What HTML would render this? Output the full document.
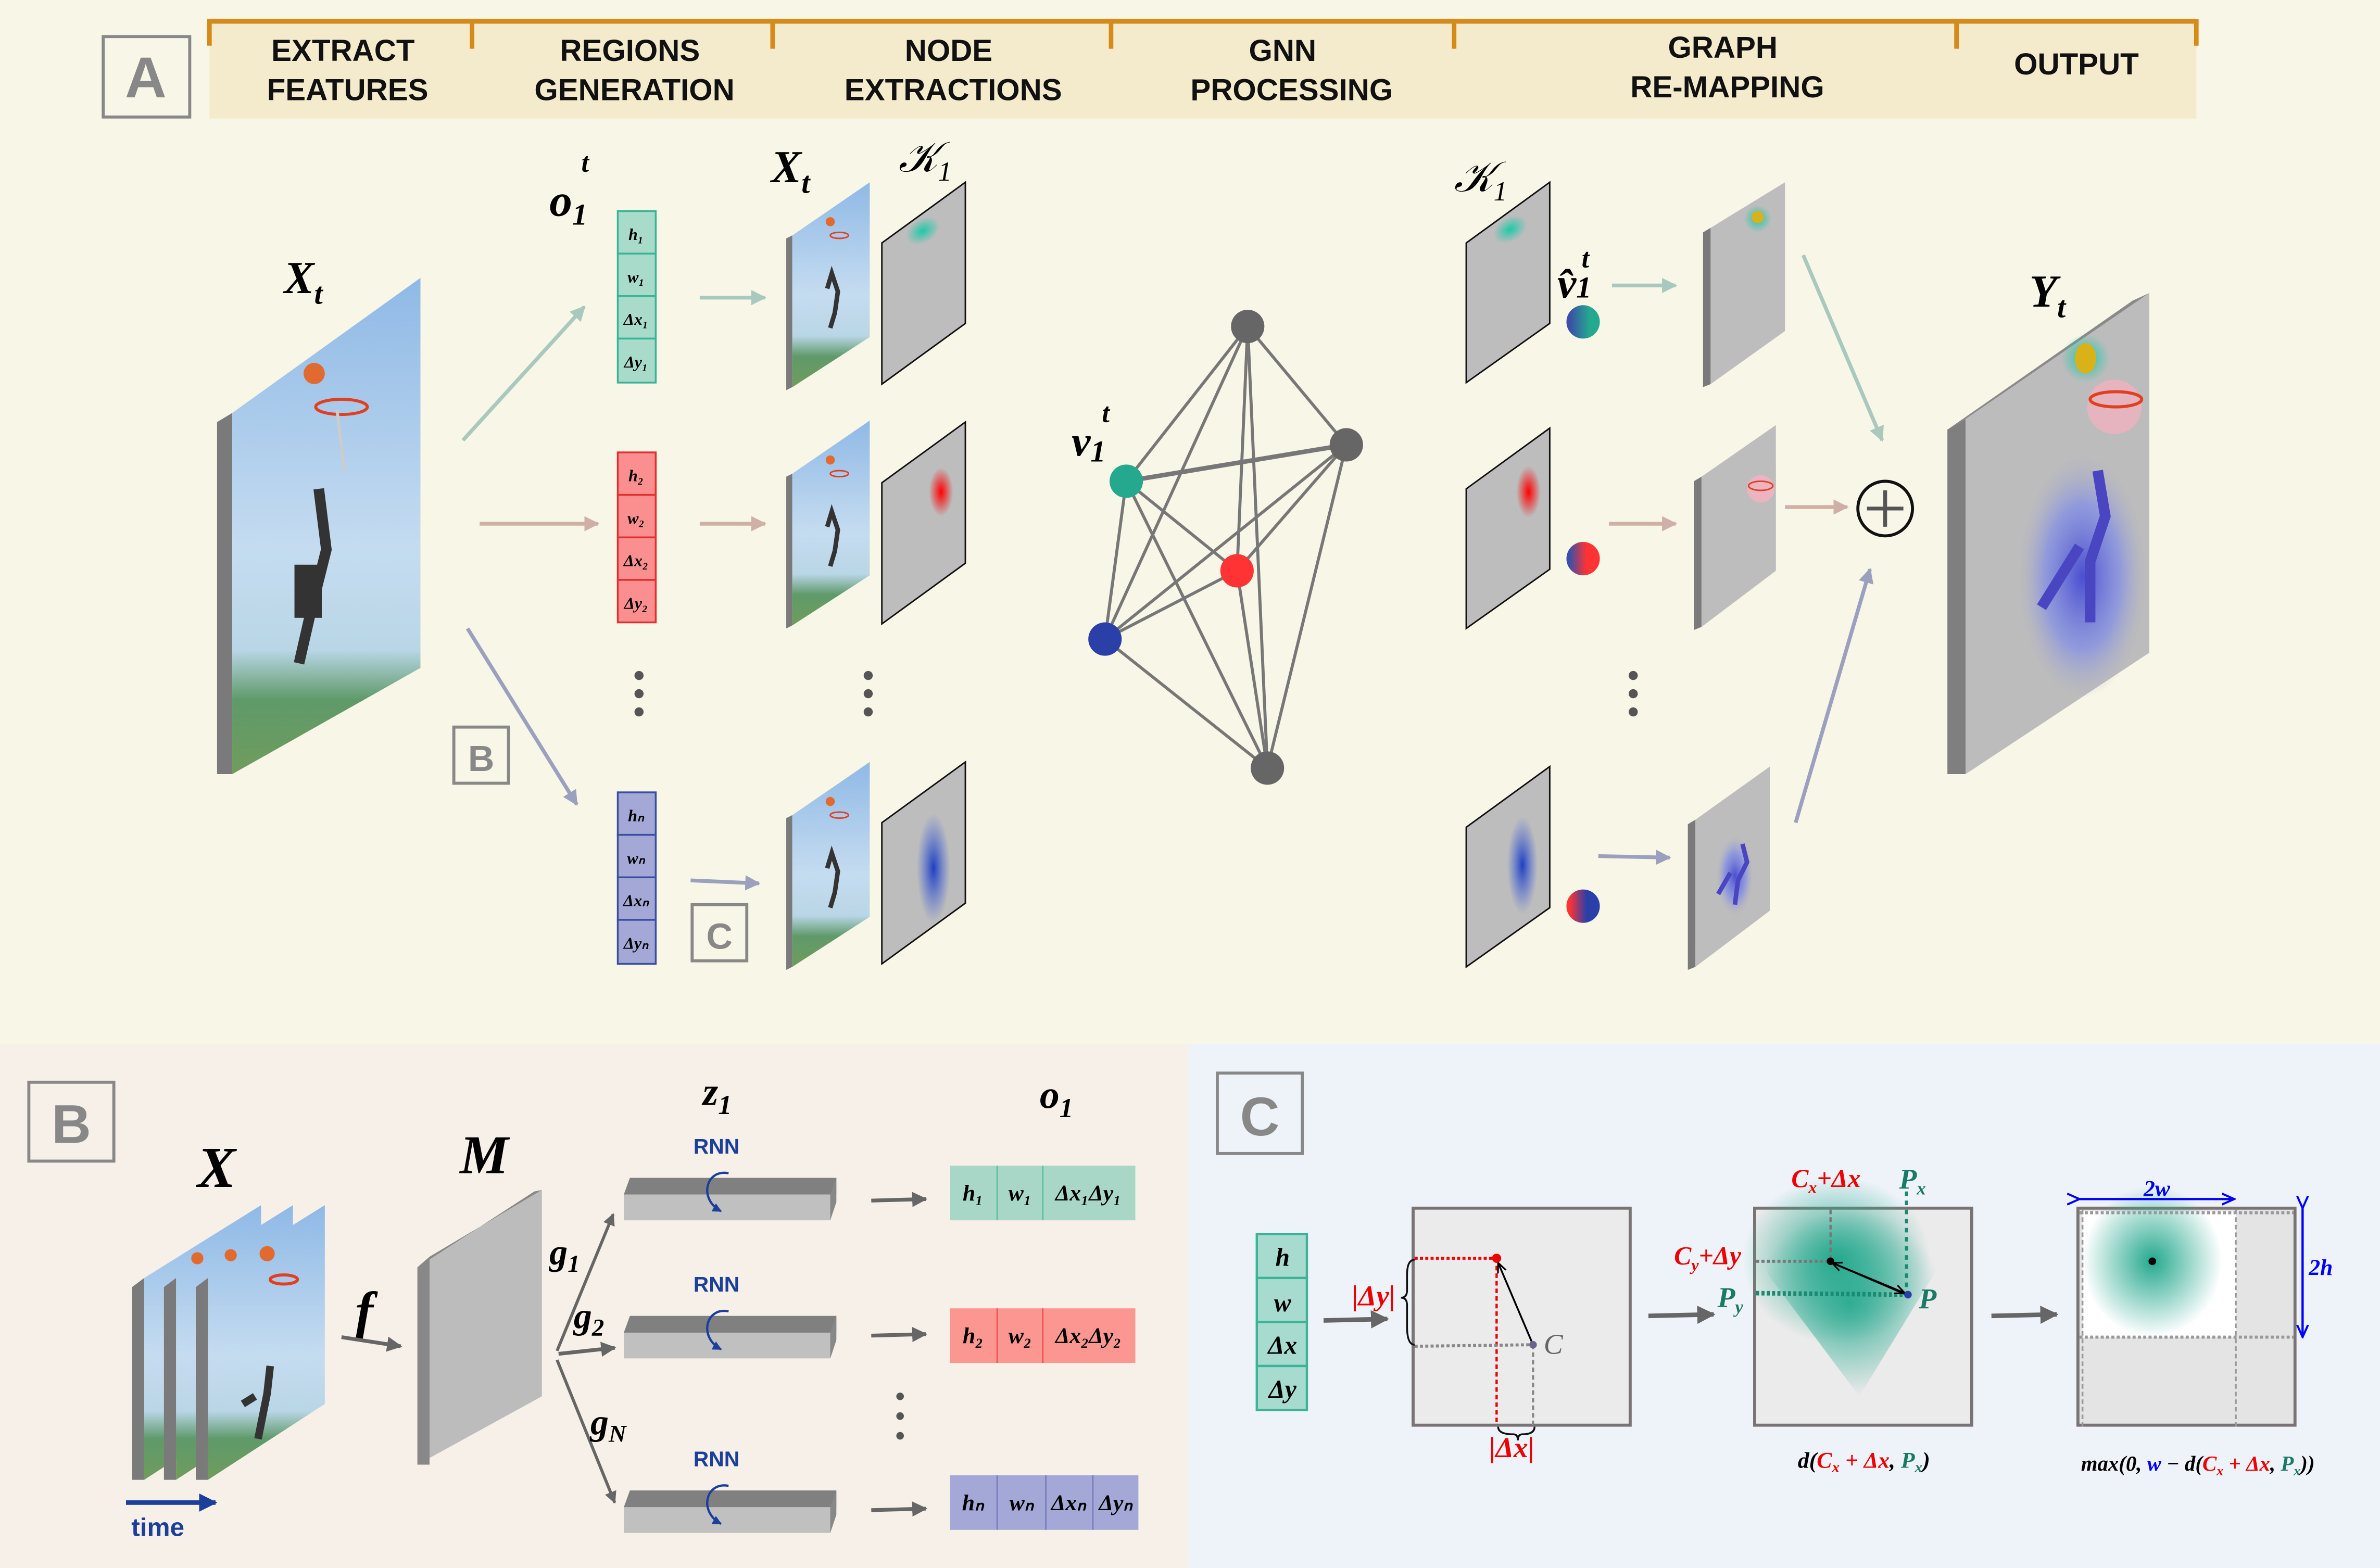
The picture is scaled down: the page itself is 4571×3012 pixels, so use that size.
<!DOCTYPE html>
<html><head><meta charset="utf-8"><style>
html,body{margin:0;padding:0;background:#f8f6e6;}
svg{display:block}
text{font-family:"Liberation Serif",serif;}
text.h{font-family:"Liberation Sans",sans-serif;font-weight:bold;font-size:20px;fill:#111;text-anchor:middle}
text.lbl{font-family:"Liberation Sans",sans-serif;font-weight:bold;fill:#888;text-anchor:middle}
text.sans{font-family:"Liberation Sans",sans-serif;font-weight:bold;}
.m{font-style:italic;font-weight:bold;}
</style></head><body>
<svg width="4571" height="3012" viewBox="0 0 1568 1033" xmlns="http://www.w3.org/2000/svg">
<defs>
<linearGradient id="ph" x1="0" y1="0" x2="0" y2="1">
<stop offset="0" stop-color="#8fb9e6"/><stop offset="0.55" stop-color="#c5dcf0"/><stop offset="0.75" stop-color="#b9d6e6"/><stop offset="0.85" stop-color="#5f9a6a"/><stop offset="1" stop-color="#6f9c5c"/>
</linearGradient>
<radialGradient id="gt"><stop offset="0" stop-color="#1fc9a8"/><stop offset="1" stop-color="#1fc9a8" stop-opacity="0"/></radialGradient>
<radialGradient id="gr"><stop offset="0" stop-color="#f00"/><stop offset="1" stop-color="#f00" stop-opacity="0"/></radialGradient>
<radialGradient id="gb"><stop offset="0" stop-color="#1f3fbf"/><stop offset="1" stop-color="#3a5fe0" stop-opacity="0"/></radialGradient>
<radialGradient id="gg"><stop offset="0" stop-color="#25a98e"/><stop offset="1" stop-color="#25a98e" stop-opacity="0"/></radialGradient>
<radialGradient id="gbody"><stop offset="0" stop-color="#4a4fd0"/><stop offset="0.6" stop-color="#7f8ce8" stop-opacity="0.7"/><stop offset="1" stop-color="#aac" stop-opacity="0"/></radialGradient>
<linearGradient id="c1" x1="0" x2="1"><stop offset="0.1" stop-color="#3b4fa8"/><stop offset="0.7" stop-color="#25a98e"/></linearGradient>
<linearGradient id="c2" x1="0" x2="1"><stop offset="0.1" stop-color="#3b4fa8"/><stop offset="0.6" stop-color="#f33"/></linearGradient>
<linearGradient id="c3" x1="0" x2="1"><stop offset="0.1" stop-color="#f33"/><stop offset="0.6" stop-color="#2a3fa8"/></linearGradient>
<marker id="aG" viewBox="0 0 10 10" refX="9" refY="5" markerWidth="4" markerHeight="4" orient="auto"><path d="M0,0L10,5L0,10z" fill="#a9c9bf"/></marker>
<marker id="aR" viewBox="0 0 10 10" refX="9" refY="5" markerWidth="4" markerHeight="4" orient="auto"><path d="M0,0L10,5L0,10z" fill="#cfb0a8"/></marker>
<marker id="aB" viewBox="0 0 10 10" refX="9" refY="5" markerWidth="4" markerHeight="4" orient="auto"><path d="M0,0L10,5L0,10z" fill="#9aa0bd"/></marker>
<marker id="aD" viewBox="0 0 10 10" refX="9" refY="5" markerWidth="4" markerHeight="4" orient="auto"><path d="M0,0L10,5L0,10z" fill="#666"/></marker>
<marker id="aK" viewBox="0 0 10 10" refX="9" refY="5" markerWidth="6" markerHeight="6" orient="auto"><path d="M0,1L9,5L0,9" fill="none" stroke="#000" stroke-width="1.5"/></marker>
<marker id="aN" viewBox="0 0 10 10" refX="9" refY="5" markerWidth="6" markerHeight="6" orient="auto"><path d="M0,1L9,5L0,9" fill="none" stroke="#00f" stroke-width="1.5"/></marker>
<marker id="aT" viewBox="0 0 10 10" refX="9" refY="5" markerWidth="4" markerHeight="4" orient="auto"><path d="M0,0L10,5L0,10z" fill="#1c3f9a"/></marker>
<g id="sframe"><polygon points="518,157 522,155 522,255 518,257" fill="#7a7a7a"/><polygon points="522,155 573,120 573,222 522,255" fill="url(#ph)"/><circle cx="547" cy="146" r="3" fill="#e06a30"/><ellipse cx="553" cy="155" rx="6" ry="2" fill="none" stroke="#e04020"/><path d="M545,190 l3,-10 l4,12 l-2,14 l-3,10" stroke="#333" stroke-width="3" fill="none"/></g>
<polygon id="kern" points="581,160 636,120 636,213 581,253" fill="#bdbdbd" stroke="#111" stroke-width="1"/>
<polygon id="rk" points="966,160 1021,120 1021,213 966,252" fill="#bdbdbd" stroke="#111" stroke-width="1"/>
</defs>

<rect x="0" y="0" width="1568" height="688" fill="#f8f6e6"/>
<rect x="0" y="688" width="783" height="345" fill="#f7f0e8"/>
<rect x="783" y="688" width="785" height="345" fill="#eef3f9"/>

<rect x="138" y="12" width="1309" height="66" fill="#f4ebcd"/>
<path d="M138,30V14H1447V30" fill="none" stroke="#d58a1a" stroke-width="3"/>
<g stroke="#d58a1a" stroke-width="3"><line x1="311" y1="13" x2="311" y2="32"/><line x1="509" y1="13" x2="509" y2="32"/><line x1="732" y1="13" x2="732" y2="32"/><line x1="958" y1="13" x2="958" y2="32"/><line x1="1289" y1="13" x2="1289" y2="32"/></g>
<text class="h" x="226" y="40">EXTRACT</text><text class="h" x="229" y="66">FEATURES</text>
<text class="h" x="415" y="40">REGIONS</text><text class="h" x="418" y="66">GENERATION</text>
<text class="h" x="625" y="40">NODE</text><text class="h" x="628" y="66">EXTRACTIONS</text>
<text class="h" x="845" y="40">GNN</text><text class="h" x="851" y="66">PROCESSING</text>
<text class="h" x="1135" y="38">GRAPH</text><text class="h" x="1138" y="64">RE-MAPPING</text>
<text class="h" x="1368" y="49">OUTPUT</text>
<rect x="68" y="24" width="57" height="53" fill="none" stroke="#888" stroke-width="2"/>
<text class="lbl" x="96" y="64" font-size="38">A</text>

<text x="187" y="193" font-size="30" class="m">X<tspan font-size="20" dy="7">t</tspan></text>
<polygon points="143,278 153,272 153,510 143,510" fill="#7a7a7a"/>
<polygon points="153,272 277,183 277,440 153,510" fill="url(#ph)"/>
<circle cx="207" cy="246" r="7" fill="#e06a30"/>
<ellipse cx="225" cy="268" rx="17" ry="5" fill="none" stroke="#e04020" stroke-width="2"/>
<path d="M222,270 l5,40" stroke="#ccc" stroke-width="2"/>
<path d="M210,322 l5,40 l-10,40 l-8,35" stroke="#333" stroke-width="7" fill="none"/>
<rect x="194" y="372" width="18" height="35" fill="#333"/>

<line x1="305" y1="290" x2="385" y2="202" stroke="#a9c9bf" stroke-width="2.5" marker-end="url(#aG)"/>
<line x1="316" y1="345" x2="394" y2="345" stroke="#cfb0a8" stroke-width="2.5" marker-end="url(#aR)"/>
<line x1="308" y1="414" x2="380" y2="530" stroke="#9aa0bd" stroke-width="2.5" marker-end="url(#aB)"/>
<rect x="299" y="479" width="36" height="37" fill="none" stroke="#888" stroke-width="2"/>
<text class="lbl" x="317" y="508" font-size="24">B</text>

<text x="362" y="142" font-size="30" class="m">o<tspan font-size="20" dy="6">1</tspan></text>
<text x="383" y="113" font-size="18" class="m">t</text>
<g font-size="11" class="m" text-anchor="middle">
<g fill="#a8dbc9" stroke="#3bb398" stroke-width="1.2"><rect x="407" y="139" width="25" height="28"/><rect x="407" y="167" width="25" height="28"/><rect x="407" y="195" width="25" height="28"/><rect x="407" y="223" width="25" height="29"/></g>
<text x="419" y="158">h₁</text><text x="419" y="186">w₁</text><text x="419" y="214">Δx₁</text><text x="419" y="242">Δy₁</text>
<g fill="#fb8e8e" stroke="#e03030" stroke-width="1.2"><rect x="407" y="298" width="25" height="28"/><rect x="407" y="326" width="25" height="28"/><rect x="407" y="354" width="25" height="28"/><rect x="407" y="382" width="25" height="28"/></g>
<text x="419" y="317">h₂</text><text x="419" y="345">w₂</text><text x="419" y="373">Δx₂</text><text x="419" y="401">Δy₂</text>
<g fill="#a3a8d6" stroke="#3a4fa0" stroke-width="1.2"><rect x="407" y="522" width="25" height="28"/><rect x="407" y="550" width="25" height="28"/><rect x="407" y="578" width="25" height="28"/><rect x="407" y="606" width="25" height="29"/></g>
<text x="419" y="541">hₙ</text><text x="419" y="569">wₙ</text><text x="419" y="597">Δxₙ</text><text x="419" y="625">Δyₙ</text>
</g>
<g fill="#555"><circle cx="421" cy="445" r="3"/><circle cx="421" cy="457" r="3"/><circle cx="421" cy="469" r="3"/><circle cx="572" cy="445" r="3"/><circle cx="572" cy="457" r="3"/><circle cx="572" cy="469" r="3"/><circle cx="1076" cy="445" r="3"/><circle cx="1076" cy="457" r="3"/><circle cx="1076" cy="469" r="3"/></g>

<line x1="461" y1="196" x2="504" y2="196" stroke="#a9c9bf" stroke-width="2.5" marker-end="url(#aG)"/>
<line x1="461" y1="345" x2="504" y2="345" stroke="#cfb0a8" stroke-width="2.5" marker-end="url(#aR)"/>
<line x1="455" y1="580" x2="500" y2="582" stroke="#9aa0bd" stroke-width="2.5" marker-end="url(#aB)"/>
<rect x="456" y="596" width="36" height="37" fill="none" stroke="#888" stroke-width="2"/>
<text class="lbl" x="474" y="625" font-size="24">C</text>

<text x="508" y="120" font-size="30" class="m">X<tspan font-size="20" dy="7">t</tspan></text>
<text x="592" y="113" font-size="28" font-style="italic">𝒦<tspan font-size="18" dy="6">1</tspan></text>
<use href="#sframe"/><use href="#sframe" y="157"/><use href="#sframe" y="382"/>
<use href="#kern"/><use href="#kern" y="158"/><use href="#kern" y="382"/>
<ellipse cx="608" cy="152" rx="12" ry="8" fill="url(#gt)" transform="rotate(-30 608 152)"/>
<ellipse cx="620" cy="324" rx="8" ry="16" fill="url(#gr)"/>
<ellipse cx="615" cy="572" rx="11" ry="36" fill="url(#gb)"/>

<g stroke="#777" stroke-width="2">
<line x1="822" y1="215" x2="887" y2="293"/><line x1="822" y1="215" x2="742" y2="317"/><line x1="822" y1="215" x2="815" y2="376"/><line x1="822" y1="215" x2="728" y2="421"/><line x1="822" y1="215" x2="835" y2="506"/>
<line x1="887" y1="293" x2="742" y2="317" stroke-width="3"/><line x1="887" y1="293" x2="815" y2="376"/><line x1="887" y1="293" x2="728" y2="421"/><line x1="887" y1="293" x2="835" y2="506"/>
<line x1="742" y1="317" x2="815" y2="376"/><line x1="742" y1="317" x2="728" y2="421"/><line x1="742" y1="317" x2="835" y2="506"/>
<line x1="815" y1="376" x2="728" y2="421"/><line x1="815" y1="376" x2="835" y2="506"/>
<line x1="728" y1="421" x2="835" y2="506"/>
</g>
<circle cx="822" cy="215" r="11" fill="#666"/><circle cx="887" cy="293" r="11" fill="#666"/><circle cx="742" cy="317" r="11" fill="#25a98e"/><circle cx="815" cy="376" r="11" fill="#f33"/><circle cx="728" cy="421" r="11" fill="#2a3fa8"/><circle cx="835" cy="506" r="11" fill="#666"/>
<text x="706" y="300" font-size="28" class="m">v<tspan font-size="20" dy="4">1</tspan></text>
<text x="726" y="278" font-size="18" class="m">t</text>

<text x="958" y="126" font-size="28" font-style="italic">𝒦<tspan font-size="18" dy="6">1</tspan></text>
<use href="#rk"/><use href="#rk" y="162"/><use href="#rk" y="385"/>
<ellipse cx="995" cy="151" rx="12" ry="8" fill="url(#gt)" transform="rotate(-30 995 151)"/>
<ellipse cx="1007" cy="324" rx="8" ry="17" fill="url(#gr)"/>
<ellipse cx="1003" cy="570" rx="10" ry="32" fill="url(#gb)"/>
<text x="1026" y="196" font-size="28" class="m">v̂<tspan font-size="20">1</tspan></text>
<text x="1042" y="176" font-size="18" class="m">t</text>
<circle cx="1043" cy="212" r="11" fill="url(#c1)"/>
<circle cx="1043" cy="368" r="11" fill="url(#c2)"/>
<circle cx="1043" cy="597" r="11" fill="url(#c3)"/>
<line x1="1062" y1="188" x2="1104" y2="188" stroke="#a9c9bf" stroke-width="2.5" marker-end="url(#aG)"/>
<line x1="1060" y1="345" x2="1104" y2="345" stroke="#cfb0a8" stroke-width="2.5" marker-end="url(#aR)"/>
<line x1="1053" y1="564" x2="1100" y2="565" stroke="#9aa0bd" stroke-width="2.5" marker-end="url(#aB)"/>
<polygon points="1122,153 1127,150 1127,253 1122,255" fill="#7a7a7a"/><polygon points="1127,150 1176,120 1176,218 1127,253" fill="#bdbdbd"/>
<circle cx="1158" cy="144" r="9" fill="url(#gt)"/><circle cx="1158" cy="143" r="4" fill="#d9b21a"/>
<polygon points="1116,317 1121,314 1121,413 1116,415" fill="#7a7a7a"/><polygon points="1121,314 1170,280 1170,376 1121,413" fill="#bdbdbd"/>
<circle cx="1160" cy="322" r="9" fill="#f7b0c0" opacity="0.8"/><ellipse cx="1160" cy="320" rx="8" ry="3" fill="none" stroke="#e04020"/>
<polygon points="1112,543 1117,540 1117,637 1112,639" fill="#7a7a7a"/><polygon points="1117,540 1166,505 1166,600 1117,637" fill="#bdbdbd"/>
<ellipse cx="1143" cy="577" rx="12" ry="26" fill="url(#gbody)"/>
<path d="M1148,556 l3,12 l-6,12 l-2,16 M1140,575 l-8,14" stroke="#4a45c0" stroke-width="3" fill="none"/>
<line x1="1188" y1="168" x2="1240" y2="290" stroke="#a9c9bf" stroke-width="2.5" marker-end="url(#aG)"/>
<line x1="1176" y1="334" x2="1217" y2="334" stroke="#cfb0a8" stroke-width="2.5" marker-end="url(#aR)"/>
<line x1="1183" y1="542" x2="1232" y2="375" stroke="#9aa0bd" stroke-width="2.5" marker-end="url(#aB)"/>
<circle cx="1242" cy="335" r="18" fill="none" stroke="#111" stroke-width="2"/>
<path d="M1230,335h24M1242,323v24" stroke="#555" stroke-width="2.5"/>
<text x="1337" y="202" font-size="30" class="m">Y<tspan font-size="20" dy="7">t</tspan></text>
<polygon points="1283,283 1295,276 1295,510 1283,510" fill="#7f7f7f"/>
<polygon points="1283,283 1405,198 1416,193 1295,276" fill="#8a8a8a"/>
<polygon points="1295,276 1416,193 1416,430 1295,510" fill="#bcbcbc"/>
<circle cx="1374" cy="236" r="16" fill="url(#gt)"/><ellipse cx="1374" cy="236" rx="7" ry="10" fill="#d9b21a"/>
<circle cx="1393" cy="268" r="18" fill="#f7b0c0" opacity="0.7"/><ellipse cx="1394" cy="263" rx="17" ry="5" fill="none" stroke="#e04020" stroke-width="2"/>
<ellipse cx="1372" cy="380" rx="42" ry="80" fill="url(#gbody)"/>
<path d="M1382,310 l5,30 l-10,30 l0,40 M1370,360 l-25,40" stroke="#4a45c0" stroke-width="7" fill="none"/>

<!-- Panel B -->
<rect x="19" y="713" width="56" height="52" fill="none" stroke="#888" stroke-width="2"/>
<text class="lbl" x="47" y="753" font-size="36">B</text>
<text x="130" y="782" font-size="38" class="m">X</text>
<text x="303" y="773" font-size="36" class="m">M</text>
<text x="463" y="728" font-size="26" class="m">z<tspan font-size="18" dy="6">1</tspan></text>
<text x="685" y="730" font-size="26" class="m">o<tspan font-size="18" dy="6">1</tspan></text>
<g>
<polygon points="87,848 95,842 95,975 87,975" fill="#7a7a7a"/><polygon points="95,842 172,794 172,925 95,975" fill="url(#ph)"/>
<polygon points="108,848 116,842 116,975 108,975" fill="#7a7a7a"/><polygon points="116,842 193,794 193,925 116,975" fill="url(#ph)"/>
<polygon points="129,848 137,842 137,975 129,975" fill="#7a7a7a"/><polygon points="137,842 214,794 214,925 137,975" fill="url(#ph)"/>
<circle cx="130" cy="829" r="4" fill="#e06a30"/><circle cx="152" cy="827" r="4" fill="#e06a30"/><circle cx="176" cy="826" r="5" fill="#e06a30"/>
<ellipse cx="187" cy="843" rx="9" ry="3" fill="none" stroke="#e04020" stroke-width="2"/>
<path d="M178,900 l-2,18 l-6,30 M168,920 l-8,5" stroke="#333" stroke-width="5" fill="none"/>
</g>
<line x1="83" y1="990" x2="142" y2="990" stroke="#1c3f9a" stroke-width="3" marker-end="url(#aT)"/>
<text class="sans" x="104" y="1012" font-size="17" fill="#1c3f9a" text-anchor="middle">time</text>
<text x="234" y="876" font-size="36" class="m">f</text>
<line x1="225" y1="881" x2="264" y2="887" stroke="#666" stroke-width="2.5" marker-end="url(#aD)"/>
<polygon points="275,835 283,828 357,784 357,920 275,965" fill="#bcbcbc"/>
<polygon points="275,835 283,828 283,965 275,965" fill="#888"/>
<polygon points="275,835 352,785 357,784 283,828" fill="#888"/>
<line x1="367" y1="890" x2="404" y2="800" stroke="#666" stroke-width="2" marker-end="url(#aD)"/>
<line x1="368" y1="892" x2="405" y2="888" stroke="#666" stroke-width="2.5" marker-end="url(#aD)"/>
<line x1="367" y1="896" x2="405" y2="990" stroke="#666" stroke-width="2" marker-end="url(#aD)"/>
<text x="362" y="833" font-size="24" class="m">g<tspan font-size="16" dy="5">1</tspan></text>
<text x="378" y="875" font-size="24" class="m">g<tspan font-size="16" dy="5">2</tspan></text>
<text x="389" y="945" font-size="24" class="m">g<tspan font-size="16" dy="5">N</tspan></text>
<g id="rnn">
<polygon points="411,787 415,776 551,776 551,792 547,804 411,804" fill="#c0c0c0"/>
<polygon points="411,787 415,776 551,776 551,787" fill="#808080"/>
<polygon points="547,787 551,776 551,792 547,804" fill="#888"/>
<path d="M480,773 C465,770 460,790 475,798" fill="none" stroke="#1c3f9a" stroke-width="1.5" marker-end="url(#aT)"/>
<text class="sans" x="472" y="760" font-size="14" fill="#1c3f9a" text-anchor="middle">RNN</text>
</g>
<use href="#rnn" y="91"/><use href="#rnn" y="206"/>
<line x1="574" y1="791" x2="610" y2="790" stroke="#666" stroke-width="2.5" marker-end="url(#aD)"/>
<line x1="574" y1="880" x2="610" y2="879" stroke="#666" stroke-width="2.5" marker-end="url(#aD)"/>
<line x1="574" y1="995" x2="610" y2="994" stroke="#666" stroke-width="2.5" marker-end="url(#aD)"/>
<g font-size="15" class="m" text-anchor="middle">
<rect x="626" y="768" width="122" height="36" fill="#a8d7c8"/><g stroke="#5fc0a8"><line x1="657" y1="768" x2="657" y2="804"/><line x1="687" y1="768" x2="687" y2="804"/></g>
<text x="641" y="791">h₁</text><text x="672" y="791">w₁</text><text x="717" y="791">Δx₁Δy₁</text>
<rect x="626" y="862" width="122" height="36" fill="#fb9790"/><g stroke="#e55"><line x1="657" y1="862" x2="657" y2="898"/><line x1="687" y1="862" x2="687" y2="898"/></g>
<text x="641" y="885">h₂</text><text x="672" y="885">w₂</text><text x="717" y="885">Δx₂Δy₂</text>
<rect x="626" y="972" width="124" height="36" fill="#a3a8d6"/><g stroke="#7a80c0"><line x1="657" y1="972" x2="657" y2="1008"/><line x1="689" y1="972" x2="689" y2="1008"/><line x1="720" y1="972" x2="720" y2="1008"/></g>
<text x="641" y="995">hₙ</text><text x="673" y="995">wₙ</text><text x="704" y="995">Δxₙ</text><text x="735" y="995">Δyₙ</text>
</g>
<g fill="#555"><circle cx="593" cy="920" r="2.5"/><circle cx="593" cy="933" r="2.5"/><circle cx="593" cy="946" r="2.5"/></g>

<!-- Panel C -->
<rect x="802" y="707" width="56" height="53" fill="none" stroke="#888" stroke-width="2"/>
<text class="lbl" x="830" y="748" font-size="36">C</text>
<g font-size="17" class="m" text-anchor="middle">
<g fill="#a8dbcf" stroke="#3bb398" stroke-width="1.5"><rect x="828" y="813" width="33" height="29"/><rect x="828" y="842" width="33" height="29"/><rect x="828" y="871" width="33" height="29"/><rect x="828" y="900" width="33" height="29"/></g>
<text x="845" y="834">h</text><text x="845" y="864">w</text><text x="845" y="892">Δx</text><text x="845" y="921">Δy</text>
</g>
<line x1="872" y1="870" x2="914" y2="869" stroke="#666" stroke-width="3" marker-end="url(#aD)"/>
<line x1="1086" y1="867" x2="1129" y2="866" stroke="#666" stroke-width="3" marker-end="url(#aD)"/>
<line x1="1312" y1="867" x2="1355" y2="866" stroke="#666" stroke-width="3" marker-end="url(#aD)"/>
<rect x="931" y="796" width="143" height="143" fill="#ebebeb" stroke="#7a7373" stroke-width="2"/>
<line x1="932" y1="829" x2="986" y2="829" stroke="#e00" stroke-width="2" stroke-dasharray="2,1.5"/>
<line x1="986" y1="829" x2="986" y2="939" stroke="#e00" stroke-width="1.5" stroke-dasharray="3,2"/>
<line x1="932" y1="887" x2="1010" y2="886" stroke="#888" stroke-width="2" stroke-dasharray="2,1.5"/>
<line x1="1010" y1="886" x2="1010" y2="939" stroke="#888" stroke-width="1.5" stroke-dasharray="3,2"/>
<line x1="1010" y1="886" x2="987" y2="832" stroke="#000" stroke-width="1.2" marker-end="url(#aK)"/>
<circle cx="986" cy="829" r="3" fill="#e00"/><circle cx="1010" cy="886" r="2.5" fill="#668"/>
<path d="M932,830 q-5,0 -5,10 v10 q0,5 -4,5 q4,0 4,5 v14 q0,12 5,12" fill="none" stroke="#111" stroke-width="1.2"/>
<path d="M987,940 q0,5 10,5 q3,0 3,4 q0,-4 3,-4 q8,0 8,-5" fill="none" stroke="#111" stroke-width="1.2"/>
<text x="905" y="860" font-size="19" fill="#e00" text-anchor="middle" class="m">|Δy|</text>
<text x="996" y="960" font-size="19" fill="#e00" text-anchor="middle" class="m">|Δx|</text>
<text x="1017" y="892" font-size="19" fill="#666" font-style="italic">C</text>
<rect x="1156" y="796" width="143" height="143" fill="#ebebeb" stroke="#7a7373" stroke-width="2"/>
<path d="M1157,797 H1270 L1280,830 L1225,920 L1165,840 Z" fill="url(#gg)" opacity="0.9"/>
<ellipse cx="1210" cy="830" rx="62" ry="55" fill="url(#gg)"/>
<line x1="1206" y1="797" x2="1206" y2="831" stroke="#777" stroke-width="1.5" stroke-dasharray="3,2"/>
<line x1="1157" y1="831" x2="1206" y2="831" stroke="#777" stroke-width="2" stroke-dasharray="2,1.5"/>
<line x1="1256" y1="785" x2="1256" y2="852" stroke="#1a8a72" stroke-width="2" stroke-dasharray="3,3"/>
<line x1="1157" y1="852" x2="1256" y2="853" stroke="#1a8a72" stroke-width="3" stroke-dasharray="2,1.5"/>
<line x1="1256" y1="853" x2="1207" y2="832" stroke="#000" stroke-width="1.2" marker-end="url(#aK)"/>
<line x1="1207" y1="832" x2="1255" y2="852" stroke="#000" stroke-width="1.2" marker-end="url(#aK)"/>
<circle cx="1206" cy="831" r="2.5" fill="#000"/><circle cx="1257" cy="853" r="2.5" fill="#2a3fa8"/>
<text x="1203" y="782" font-size="17" fill="#e00" text-anchor="middle" class="m">C<tspan font-size="11" dy="4">x</tspan><tspan dy="-4">+Δx</tspan></text>
<text x="1260" y="783" font-size="19" fill="#1a7a66" text-anchor="middle" class="m">P<tspan font-size="12" dy="4">x</tspan></text>
<text x="1125" y="833" font-size="17" fill="#e00" text-anchor="middle" class="m">C<tspan font-size="11" dy="4">y</tspan><tspan dy="-4">+Δy</tspan></text>
<text x="1140" y="861" font-size="19" fill="#1a7a66" text-anchor="middle" class="m">P<tspan font-size="12" dy="4">y</tspan></text>
<text x="1270" y="862" font-size="19" fill="#1a7a66" text-anchor="middle" class="m">P</text>
<text x="1228" y="967" font-size="15" text-anchor="middle" class="m">d(<tspan fill="#e00">C<tspan font-size="10" dy="3">x</tspan><tspan dy="-3"> + Δx</tspan></tspan>, <tspan fill="#1a7a66">P<tspan font-size="10" dy="3">x</tspan></tspan><tspan dy="-3">)</tspan></text>
<rect x="1369" y="796" width="143" height="143" fill="#e4e4e4" stroke="#7a7373" stroke-width="2"/>
<rect x="1372" y="798" width="101" height="83" fill="#fff"/>
<ellipse cx="1418" cy="831" rx="46" ry="50" fill="url(#gg)"/>
<circle cx="1418" cy="831" r="2.5" fill="#000"/>
<g stroke="#999" stroke-width="2" stroke-dasharray="2,1.5" fill="none"><line x1="1370" y1="799" x2="1511" y2="799"/><line x1="1370" y1="881" x2="1511" y2="881"/></g>
<g stroke="#999" stroke-width="1.2" stroke-dasharray="3,2"><line x1="1372" y1="797" x2="1372" y2="940"/><line x1="1473" y1="797" x2="1473" y2="940"/></g>
<line x1="1370" y1="790" x2="1472" y2="790" stroke="#00f" stroke-width="1.5" marker-end="url(#aN)" marker-start="url(#aN)"/>
<line x1="1517" y1="796" x2="1517" y2="881" stroke="#00f" stroke-width="1.5" marker-end="url(#aN)" marker-start="url(#aN)"/>
<text x="1421" y="788" font-size="15" fill="#00f" text-anchor="middle" class="m">2w</text>
<text x="1529" y="840" font-size="15" fill="#00f" text-anchor="middle" class="m">2h</text>
<text x="1448" y="969" font-size="14" text-anchor="middle" class="m">max(0, <tspan fill="#00f">w</tspan> − d(<tspan fill="#e00">C<tspan font-size="9" dy="3">x</tspan><tspan dy="-3"> + Δx</tspan></tspan>, <tspan fill="#1a7a66">P<tspan font-size="9" dy="3">x</tspan></tspan><tspan dy="-3">))</tspan></text>
</svg>
</body></html>
